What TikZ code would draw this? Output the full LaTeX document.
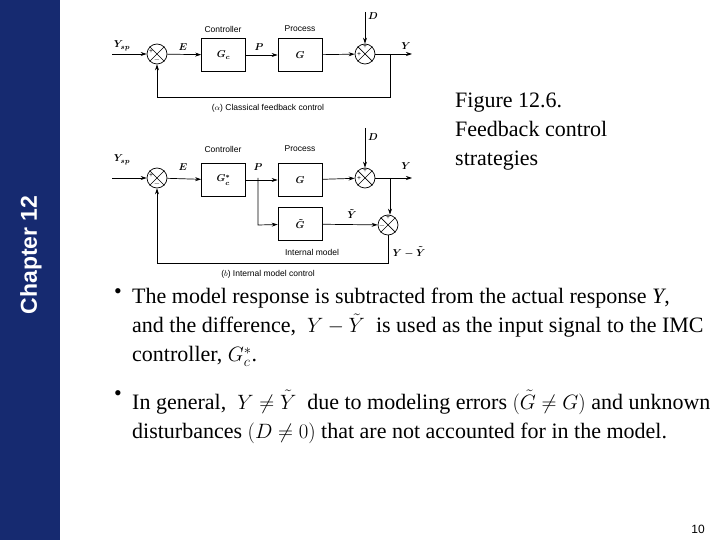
\documentclass[tikz,border=0pt]{standalone}
\usepackage{fontspec}
\setmainfont{Liberation Serif}
\newfontfamily\sans{Liberation Sans}
\usetikzlibrary{arrows.meta}
\definecolor{navy}{RGB}{22,42,112}
\begin{document}
\begin{tikzpicture}[x=1pt,y=-1pt,
  blk/.style={draw,line width=0.7pt,minimum width=44pt,minimum height=33pt,inner sep=0pt,font=\fontsize{10}{10}\selectfont\boldmath},
  sm/.style={draw,circle,line width=0.7pt,minimum size=20pt,inner sep=0pt},
  sg/.style={font=\fontsize{7}{7}\selectfont\bfseries,inner sep=0pt},
  lb/.style={font=\fontsize{10}{10}\selectfont\boldmath,inner sep=0pt},
  captxt/.style={font=\sans\fontsize{8.5}{8.5}\selectfont,inner sep=0pt},
  ar/.style={-{Stealth[length=6pt,width=4pt]},line width=0.7pt},
  ln/.style={line width=0.7pt},
  body/.style={font=\fontsize{22}{29}\selectfont,inner sep=0pt,anchor=north west,align=left}]
\useasboundingbox (0,0) rectangle (720,540);
\fill[navy] (0,0) rectangle (60,540);
\node[rotate=90,text=white,font=\sans\bfseries\fontsize{23}{23}\selectfont] (chap) at (31,255) {Chapter 12};
% ---- (a)
\node[sm] (s1) at (157,54) {};
\node[blk] (gc) at (223.5,55) {$G_c$};
\node[blk] (g) at (300,55) {$G$};
\node[sm] (s2) at (365,54) {};
\foreach \n in {s1,s2}{\draw[ln] (\n.45)--(\n.225) (\n.135)--(\n.315);}
\node[sg] at (151,52) {+}; \node[sg] at (157,60) {$-$};
\node[sg] at (365,47) {+}; \node[sg] at (359,55) {+};
\node[captxt] at (223,29) {Controller};
\node[captxt] at (300,29) {Process};
\coordinate (yin) at (112,54); \coordinate (yout) at (412,54);
\coordinate (dtop) at (365,12); \coordinate (br) at (390,54);
\coordinate (fb1) at (390,97); \coordinate (fb2) at (157,97);
\node[lb] at (122,46) {$Y_{sp}$};
\node[lb] at (183,47) {$E$};
\node[lb] at (259,47) {$P$};
\node[lb] at (406,46) {$Y$};
\node[lb] at (373,16) {$D$};
\draw[ar] (yin)--(s1); \draw[ar] (s1)--(gc); \draw[ar] (gc)--(g);
\draw[ar] (g)--(s2); \draw[ar] (dtop)--(s2); \draw[ar] (s2)--(yout);
\draw[ar] (br)--(fb1)--(fb2)--(s1);
\node[captxt] at (268,108) {($\alpha$) Classical feedback control};
% ---- (b)
\node[sm] (t1) at (157,178) {};
\node[blk] (gcs) at (223.5,180) {$G_c^*$};
\node[blk] (g2) at (300,180) {$G$};
\node[blk] (gt) at (300,224) {$\tilde G$};
\node[sm] (t2) at (365,178) {};
\node[sm] (t3) at (388,225) {};
\foreach \n in {t1,t2,t3}{\draw[ln] (\n.45)--(\n.225) (\n.135)--(\n.315);}
\node[sg] at (151,176) {+}; \node[sg] at (157,184) {$-$};
\node[sg] at (365,171) {+}; \node[sg] at (359,179) {+};
\node[sg] at (388,218) {+}; \node[sg] at (382,226) {$-$};
\node[captxt] at (223,149) {Controller};
\node[captxt] at (300,149) {Process};
\node[captxt] at (312,252) {Internal model};
\coordinate (zin) at (112,178); \coordinate (zout) at (412,178);
\coordinate (d2) at (365,128); \coordinate (pb) at (258,178);
\coordinate (pb2) at (258,225); \coordinate (yb) at (390,178);
\coordinate (o1) at (388,263); \coordinate (o2) at (157,263);
\node[lb] at (122,160) {$Y_{sp}$};
\node[lb] at (183,167) {$E$};
\node[lb] at (258,167) {$P$};
\node[lb] at (406,166) {$Y$};
\node[lb] at (373,137) {$D$};
\node[lb] at (352,214) {$\tilde Y$};
\node[lb] at (409,252) {$Y-\tilde Y$};
\draw[ar] (zin)--(t1); \draw[ar] (t1)--(gcs); \draw[ar] (gcs)--(g2);
\draw[ar] (g2)--(t2); \draw[ar] (d2)--(t2); \draw[ar] (t2)--(zout);
\draw[ar] (pb)--(pb2)--(gt); \draw[ar] (gt)--(t3);
\draw[ar] (yb)--(t3.north -| yb);
\draw[ar] (t3)--(o1)--(o2)--(t1);
\node[captxt] at (268,274) {($b$) Internal model control};
% ---- text
\node[body] (fig) at (455,93) {Figure 12.6.\\Feedback control\\strategies};
\node[body] (b1) at (114,288) {•};
\node[body] (t1x) at (132,288) {The model response is subtracted from the actual response \textit{Y},\\and the difference, \ $Y-\tilde Y$ \ is used as the input signal to the IMC\\controller, $G_c^*$.};
\node[body] (b2) at (114,390) {•};
\node[body] (t2x) at (132,390) {In general, \ $Y\neq\tilde Y$ \ due to modeling errors $\bigl(\tilde G\neq G\bigr)$ and unknown\\disturbances $\bigl(D\neq0\bigr)$ that are not accounted for in the model.};
\node[font=\sans\fontsize{12}{12}\selectfont] (pg) at (698,529) {10};
\end{tikzpicture}
\end{document}
